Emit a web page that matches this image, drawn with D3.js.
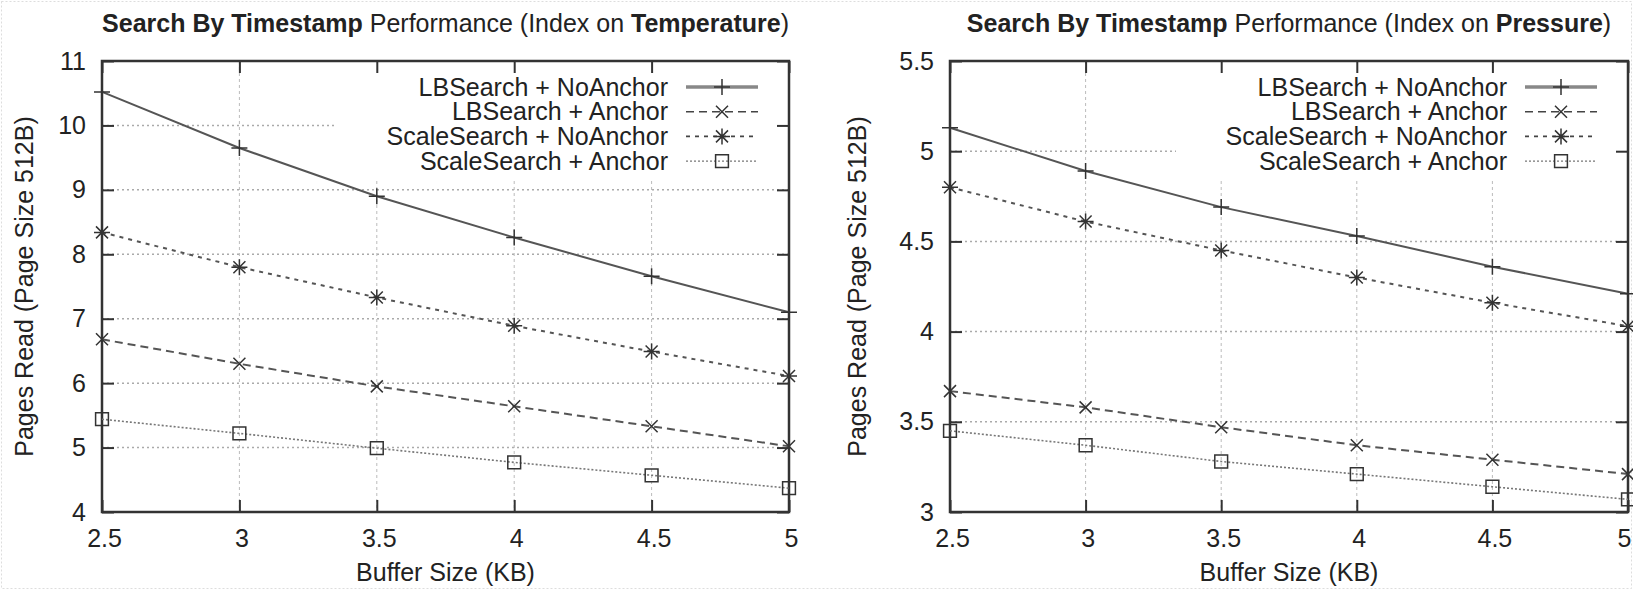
<!doctype html>
<html lang="en">
<head>
<meta charset="utf-8">
<style>
  body { margin: 0; background: #fff; }
  svg text { font-family: "Liberation Sans", Arial, Helvetica, sans-serif; fill: #222; }
  .tick text { font-size: 25px; }
  .tick line { stroke: #333; stroke-width: 2px; }
  .domain { display: none; }
  .legend-label { font-size: 25px; text-anchor: end; }
  .title { font-size: 25px; text-anchor: middle; }
  .axis-title { font-size: 25px; text-anchor: middle; }
</style>
</head>
<body>
<div id="chart"></div>
<script src="https://cdn.jsdelivr.net/npm/d3@7"></script>
<script>
// buffer size in KB (x values / x ticks)
var bufferSizes = [2.5, 3, 3.5, 4, 4.5, 5];

var seriesNames = ["LBSearch + NoAnchor", "LBSearch + Anchor", "ScaleSearch + NoAnchor", "ScaleSearch + Anchor"];

// index on temperature
var tempLBNoAnchor    = [10.52, 9.65, 8.90, 8.26, 7.66, 7.10];
var tempLBAnchor      = [6.68, 6.30, 5.95, 5.64, 5.33, 5.02];
var tempScaleNoAnchor = [8.34, 7.80, 7.33, 6.89, 6.49, 6.11];
var tempScaleAnchor   = [5.44, 5.22, 4.99, 4.77, 4.57, 4.37];
var tempTicks = [4, 5, 6, 7, 8, 9, 10, 11];

// index on pressure
var presLBNoAnchor    = [5.13, 4.89, 4.69, 4.53, 4.36, 4.21];
var presLBAnchor      = [3.67, 3.58, 3.47, 3.37, 3.29, 3.21];
var presScaleNoAnchor = [4.80, 4.61, 4.45, 4.30, 4.16, 4.03];
var presScaleAnchor   = [3.45, 3.37, 3.28, 3.21, 3.14, 3.07];
var presTicks = [3, 3.5, 4, 4.5, 5, 5.5];

var width = 1633, height = 590;
var plotTop = 61, plotBottom = 512;

// line style + marker per series (same order as seriesNames)
var styles = [
  { dash: null,  marker: "plus",     keyColor: "#888", keyWidth: 3.5 },
  { dash: "8,5", marker: "cross",    keyColor: "#444", keyWidth: 1.6 },
  { dash: "4,5", marker: "star",     keyColor: "#444", keyWidth: 1.6 },
  { dash: "2,2", marker: "square",   keyColor: "#777", keyWidth: 1.4 }
];

function markerPath(type, s) {
  var p = d3.path();
  if (type == "plus" || type == "star") {
    p.moveTo(-s, 0); p.lineTo(s, 0);
    p.moveTo(0, -s); p.lineTo(0, s);
  }
  if (type == "cross" || type == "star") {
    p.moveTo(-s * 0.75, -s * 0.75); p.lineTo(s * 0.75, s * 0.75);
    p.moveTo(-s * 0.75, s * 0.75); p.lineTo(s * 0.75, -s * 0.75);
  }
  if (type == "square") {
    p.rect(-s * 0.8, -s * 0.8, s * 1.6, s * 1.6);
  }
  return p.toString();
}

var svg = d3.select("#chart").append("svg")
    .attr("width", width)
    .attr("height", height);

// faint dashed page border
svg.append("rect")
    .attr("x", 1.5).attr("y", 1.5)
    .attr("width", width - 3).attr("height", height - 3)
    .attr("fill", "none")
    .attr("stroke", "#ddd")
    .attr("stroke-dasharray", "2,2");

function drawPanel(left, right, yTicks, series, indexName, labelX) {
  var x = d3.scaleLinear().domain([bufferSizes[0], bufferSizes[bufferSizes.length - 1]]).range([left, right]);
  var y = d3.scaleLinear().domain([yTicks[0], yTicks[yTicks.length - 1]]).range([plotBottom, plotTop]);
  var g = svg.append("g");

  // grid
  g.selectAll(".hgrid").data(yTicks.slice(1, -1)).enter().append("line")
      .attr("x1", left).attr("x2", right)
      .attr("y1", d => y(d)).attr("y2", d => y(d))
      .attr("stroke", "#aaa").attr("stroke-width", 1.5)
      .attr("stroke-dasharray", "2,3");
  g.selectAll(".vgrid").data(bufferSizes.slice(1, -1)).enter().append("line")
      .attr("x1", d => x(d)).attr("x2", d => x(d))
      .attr("y1", plotTop).attr("y2", plotBottom)
      .attr("stroke", "#bbb").attr("stroke-width", 1)
      .attr("stroke-dasharray", "3,3");

  // key area hides the grid
  g.append("rect")
      .attr("x", right - 452).attr("y", plotTop + 1)
      .attr("width", 451).attr("height", 116)
      .attr("fill", "#fff");

  // axes with inward ticks, mirrored on all sides
  g.append("g").attr("transform", "translate(" + left + ",0)")
      .call(d3.axisLeft(y).tickValues(yTicks).tickSize(-12).tickPadding(16).tickFormat(d => String(d)));
  g.append("g").attr("transform", "translate(" + right + ",0)")
      .call(d3.axisRight(y).tickValues(yTicks).tickSize(-12).tickFormat(""));
  g.append("g").attr("transform", "translate(0," + plotBottom + ")")
      .call(d3.axisBottom(x).tickValues(bufferSizes).tickSize(-12).tickPadding(17).tickFormat(d => String(d)))
      .selectAll("text").attr("dx", (d, i) => (x(d) + 9 > width ? -4 : 2));
  g.append("g").attr("transform", "translate(0," + plotTop + ")")
      .call(d3.axisTop(x).tickValues(bufferSizes).tickSize(-12).tickFormat(""));

  // frame
  g.append("rect")
      .attr("x", left).attr("y", plotTop)
      .attr("width", right - left).attr("height", plotBottom - plotTop)
      .attr("fill", "none").attr("stroke", "#333").attr("stroke-width", 2.5);

  var line = d3.line().x((d, i) => x(bufferSizes[i])).y(d => y(d));

  series.forEach(function(vals, k) {
    var st = styles[k];
    g.append("path")
        .attr("d", line(vals))
        .attr("fill", "none")
        .attr("stroke", k == 3 ? "#777" : "#555")
        .attr("stroke-width", k == 3 ? 1.6 : 2)
        .attr("stroke-dasharray", st.dash);
    g.selectAll(".m" + k).data(vals).enter().append("path")
        .attr("transform", (d, i) => "translate(" + x(bufferSizes[i]) + "," + y(d) + ")")
        .attr("d", markerPath(st.marker, 8))
        .attr("fill", "none")
        .attr("stroke", "#333")
        .attr("stroke-width", 1.5);
  });

  // legend
  var key = g.append("g");
  seriesNames.forEach(function(name, k) {
    var st = styles[k];
    var ky = plotTop + 26 + k * 24.7;
    key.append("text").attr("class", "legend-label")
        .attr("x", right - 121).attr("y", ky).attr("dy", "0.35em")
        .text(name);
    key.append("line")
        .attr("x1", right - 103).attr("x2", right - 31)
        .attr("y1", ky).attr("y2", ky)
        .attr("stroke", st.keyColor).attr("stroke-width", st.keyWidth)
        .attr("stroke-dasharray", st.dash);
    key.append("path")
        .attr("transform", "translate(" + (right - 67) + "," + ky + ")")
        .attr("d", markerPath(st.marker, 8))
        .attr("fill", "none").attr("stroke", "#333").attr("stroke-width", 1.5);
  });

  // title
  var t = g.append("text").attr("class", "title")
      .attr("x", (left + right) / 2).attr("y", 32);
  t.append("tspan").attr("font-weight", "bold").text("Search By Timestamp");
  t.append("tspan").text(" Performance (Index on ");
  t.append("tspan").attr("font-weight", "bold").text(indexName);
  t.append("tspan").text(")");

  // axis titles
  g.append("text").attr("class", "axis-title")
      .attr("x", (left + right) / 2).attr("y", 581)
      .text("Buffer Size (KB)");
  g.append("text").attr("class", "axis-title")
      .attr("transform", "translate(" + labelX + "," + ((plotTop + plotBottom) / 2) + ") rotate(-90)")
      .text("Pages Read (Page Size 512B)");
}

drawPanel(102, 789, tempTicks,
  [tempLBNoAnchor, tempLBAnchor, tempScaleNoAnchor, tempScaleAnchor], "Temperature", 33);
drawPanel(950, 1628, presTicks,
  [presLBNoAnchor, presLBAnchor, presScaleNoAnchor, presScaleAnchor], "Pressure", 866);
</script>
</body>
</html>
